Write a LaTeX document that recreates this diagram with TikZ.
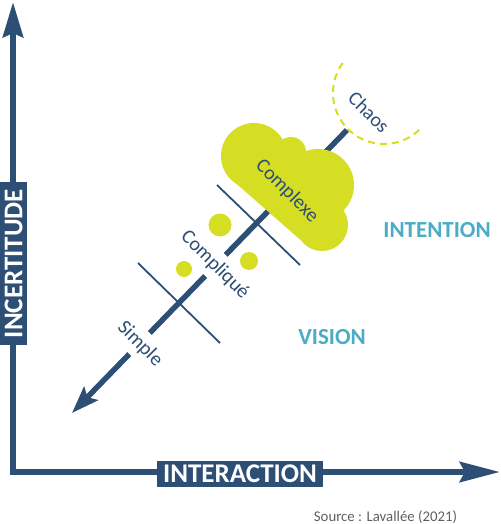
\documentclass[tikz,border=0pt]{standalone}
\usepackage{fontspec}
\setmainfont{Carlito}
\usetikzlibrary{arrows.meta}
\definecolor{axisblue}{RGB}{45,78,117}
\definecolor{cloudgreen}{RGB}{214,222,35}
\definecolor{zonecyan}{RGB}{75,172,198}
\definecolor{sourcegrey}{RGB}{95,95,95}
\tikzset{
  axislabel/.style={fill=axisblue, text=white, inner sep=0pt, font=\fontsize{27}{30}\selectfont\bfseries},
  stage/.style={text=axisblue, rotate=-45, font=\fontsize{20}{24}\selectfont},
  zone/.style={text=zonecyan, font=\fontsize{23}{26}\selectfont\bfseries},
}
\begin{document}
\begin{tikzpicture}[x=1pt,y=-1pt]
\useasboundingbox (0,0) rectangle (500,524);

\coordinate (ytip) at (13,2);
\coordinate (corner) at (13,472);
\coordinate (xtip) at (500,472);
\draw[axisblue, line width=6.5pt, {Stealth[length=35pt,width=20pt,inset=4pt]}-{Stealth[length=40pt,width=20pt,inset=5pt]}] (ytip) -- (corner) -- (xtip);

\node[axislabel, rotate=90, minimum width=163pt, minimum height=27pt] (incertitude) at (13.5,263.5) {INCERTITUDE};
\node[axislabel, minimum width=166pt, minimum height=26pt] (interaction) at (240,474) {INTERACTION};

% diagonal scale
\coordinate (chaos-end) at (347,130);
\coordinate (simple-tip) at (72,413);
\draw[axisblue, line width=5.5pt, -{Stealth[length=27pt,width=19pt,inset=5pt]}] (chaos-end) -- (simple-tip);

\coordinate (cut-1a) at (217,185);
\coordinate (cut-1b) at (300,265);
\coordinate (cut-2a) at (138,263);
\coordinate (cut-2b) at (220,343);
\draw[axisblue, line width=1.8pt] (cut-1a) -- (cut-1b);
\draw[axisblue, line width=1.8pt] (cut-2a) -- (cut-2b);

\node[stage, fill=white, inner sep=6pt] (complique) at (215,265) {Compliqué};
\node[stage, fill=white, inner sep=6pt] (simple) at (140,344) {Simple};

\fill[cloudgreen] (220,225) circle[radius=11.5] (249,261) circle[radius=9] (184,269) circle[radius=8];

% cloud
\fill[cloudgreen] (231,179) -- (304,243) -- (322,225) -- (318,185) -- (291,152) -- (254,156) -- cycle;
\fill[cloudgreen] (254,156) circle[radius=33] (291,152) circle[radius=15] (318,185) circle[radius=36] (322,225) circle[radius=26];
\node[stage] (complexe) at (287,191) {Complexe};

\node[stage] (chaos) at (369,112) {Chaos};
\draw[cloudgreen, line width=2pt, dash pattern=on 7pt off 5pt] (342.7,63) arc[start angle=216, end angle=46, radius=51];

\node[zone] (intention) at (437,230.5) {INTENTION};
\node[zone] (vision) at (332,337.5) {VISION};
\node[text=sourcegrey, anchor=base, font=\fontsize{14.8}{17}\selectfont] (source) at (385.5,521) {Source : Lavallée (2021)};
\end{tikzpicture}
\end{document}
